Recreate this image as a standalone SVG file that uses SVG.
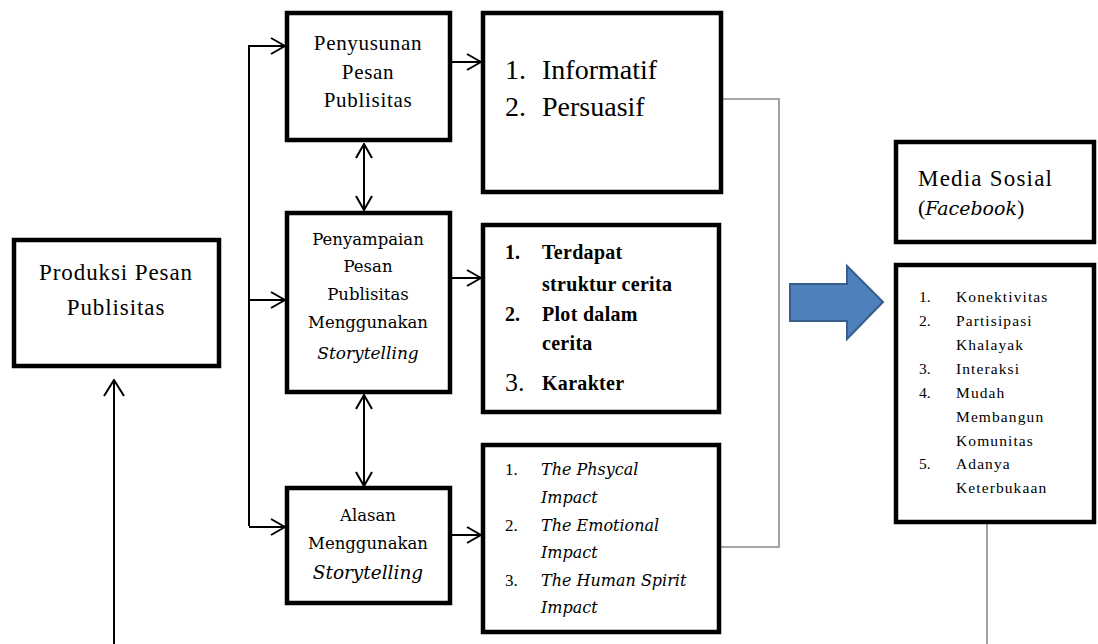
<svg xmlns="http://www.w3.org/2000/svg" width="1098" height="644" viewBox="0 0 1098 644">
<style>
.box{fill:#fff;stroke:#000;stroke-width:4.5}
.t{font-family:"Liberation Serif",serif;fill:#000}
.d{font-family:"DejaVu Serif",serif;fill:#000}
.c{text-anchor:middle}
.ln{fill:none;stroke:#000;stroke-width:2}
.gr{fill:none;stroke:#8a8a8a;stroke-width:1.6}
</style>
<defs>
<marker id="ah" viewBox="0 0 16 18" markerUnits="userSpaceOnUse" markerWidth="16" markerHeight="18" refX="15" refY="9" orient="auto-start-reverse">
<path d="M1,1 L15,9 L1,17" fill="none" stroke="#000" stroke-width="2"/>
</marker>
<marker id="ahb" viewBox="0 0 18 22" markerUnits="userSpaceOnUse" markerWidth="18" markerHeight="22" refX="17" refY="11" orient="auto">
<path d="M1,1 L17,11 L1,21" fill="none" stroke="#000" stroke-width="2"/>
</marker>
</defs>
<g id="connectors">
<path class="ln" d="M114,644 L114,380" marker-end="url(#ahb)"/>
<path class="ln" d="M249,526 L249,46 L285,46" marker-end="url(#ah)"/>
<path class="ln" d="M249,300 L285,300" marker-end="url(#ah)"/>
<path class="ln" d="M249,527 L285,527" marker-end="url(#ah)"/>
<path class="ln" d="M450,62 L481,62" marker-end="url(#ah)"/>
<path class="ln" d="M450,278 L481,278" marker-end="url(#ah)"/>
<path class="ln" d="M450,535 L481,535" marker-end="url(#ah)"/>
<path class="ln" d="M364,144 L364,210" marker-start="url(#ah)" marker-end="url(#ah)"/>
<path class="ln" d="M364,395 L364,486" marker-start="url(#ah)" marker-end="url(#ah)"/>
<path class="gr" d="M721,99 L779,99 L779,547 L720,547"/>
<path class="gr" d="M987,522 L987,644"/>
<polygon points="790,284 847,284 847,266 883,302 847,339 847,321 790,321" fill="#4f81bd" stroke="#385d8a" stroke-width="2"/>
</g>
<g id="produksi">
<rect class="box" x="14" y="240" width="205" height="126"/>
<text class="t c" x="116" y="280" font-size="23" letter-spacing="0.9">Produksi Pesan</text>
<text class="t c" x="116" y="315" font-size="23" letter-spacing="0.9">Publisitas</text>
</g>
<g id="penyusunan">
<rect class="box" x="287" y="13" width="163" height="127"/>
<text class="t c" x="368" y="50" font-size="21" letter-spacing="0.7">Penyusunan</text>
<text class="t c" x="368" y="79" font-size="21" letter-spacing="0.7">Pesan</text>
<text class="t c" x="368" y="107" font-size="21" letter-spacing="0.7">Publisitas</text>
</g>
<g id="penyampaian">
<rect class="box" x="287" y="213" width="163" height="179"/>
<text class="d c" x="368" y="245" font-size="16.5">Penyampaian</text>
<text class="d c" x="368" y="272" font-size="16.5">Pesan</text>
<text class="d c" x="368" y="300" font-size="16.5">Publisitas</text>
<text class="d c" x="368" y="328" font-size="16.5">Menggunakan</text>
<text class="d c" x="368" y="359" font-size="17" font-style="italic">Storytelling</text>
</g>
<g id="alasan">
<rect class="box" x="287" y="488" width="163" height="115"/>
<text class="d c" x="368" y="521" font-size="16.5">Alasan</text>
<text class="d c" x="368" y="549" font-size="16.5">Menggunakan</text>
<text class="d c" x="368" y="579" font-size="18.5" font-style="italic">Storytelling</text>
</g>
<g id="pesan-jenis">
<rect class="box" x="483" y="13" width="238" height="179"/>
<text class="t" x="505" y="79" font-size="28">1.</text>
<text class="t" x="542" y="79" font-size="28">Informatif</text>
<text class="t" x="505" y="116" font-size="28">2.</text>
<text class="t" x="542" y="116" font-size="28">Persuasif</text>
</g>
<g id="storytelling-unsur">
<rect class="box" x="483" y="225" width="236" height="187"/>
<text class="t" x="505" y="259" font-size="20" font-weight="bold">1.</text>
<text class="t" x="542" y="259" font-size="20" font-weight="bold" letter-spacing="0.3">Terdapat</text>
<text class="t" x="542" y="291" font-size="20" font-weight="bold" letter-spacing="0.3">struktur cerita</text>
<text class="t" x="505" y="321" font-size="20" font-weight="bold">2.</text>
<text class="t" x="542" y="321" font-size="20" font-weight="bold" letter-spacing="0.3">Plot dalam</text>
<text class="t" x="542" y="350" font-size="20" font-weight="bold" letter-spacing="0.3">cerita</text>
<text class="t" x="505" y="391" font-size="26">3.</text>
<text class="t" x="542" y="390" font-size="20" font-weight="bold" letter-spacing="0.3">Karakter</text>
</g>
<g id="impact">
<rect class="box" x="483" y="445" width="236" height="187"/>
<text class="t" x="505" y="475" font-size="17">1.</text>
<text class="d" x="541" y="475" font-size="16" font-style="italic">The Phsycal</text>
<text class="d" x="541" y="503" font-size="16" font-style="italic">Impact</text>
<text class="t" x="505" y="531" font-size="17">2.</text>
<text class="d" x="541" y="531" font-size="16" font-style="italic">The Emotional</text>
<text class="d" x="541" y="558" font-size="16" font-style="italic">Impact</text>
<text class="t" x="505" y="586" font-size="17">3.</text>
<text class="d" x="541" y="586" font-size="16" font-style="italic">The Human Spirit</text>
<text class="d" x="541" y="613" font-size="16" font-style="italic">Impact</text>
</g>
<g id="media-sosial">
<rect class="box" x="896" y="142" width="198" height="100"/>
<text class="t" x="918" y="186" font-size="23" letter-spacing="1.2">Media Sosial</text>
<text x="918" y="215" font-size="22"><tspan class="t">(</tspan><tspan class="d" font-style="italic" font-size="19">Facebook</tspan><tspan class="t">)</tspan></text>
</g>
<g id="karakteristik">
<rect class="box" x="896" y="265" width="198" height="257"/>
<text class="t" x="919" y="302" font-size="15.5">1.</text>
<text class="t" x="956" y="302" font-size="15.5" letter-spacing="1.1">Konektivitas</text>
<text class="t" x="919" y="326" font-size="15.5">2.</text>
<text class="t" x="956" y="326" font-size="15.5" letter-spacing="1.1">Partisipasi</text>
<text class="t" x="956" y="350" font-size="15.5" letter-spacing="1.1">Khalayak</text>
<text class="t" x="919" y="374" font-size="15.5">3.</text>
<text class="t" x="956" y="374" font-size="15.5" letter-spacing="1.1">Interaksi</text>
<text class="t" x="919" y="398" font-size="15.5">4.</text>
<text class="t" x="956" y="398" font-size="15.5" letter-spacing="1.1">Mudah</text>
<text class="t" x="956" y="422" font-size="15.5" letter-spacing="1.1">Membangun</text>
<text class="t" x="956" y="446" font-size="15.5" letter-spacing="1.1">Komunitas</text>
<text class="t" x="919" y="469" font-size="15.5">5.</text>
<text class="t" x="956" y="469" font-size="15.5" letter-spacing="1.1">Adanya</text>
<text class="t" x="956" y="493" font-size="15.5" letter-spacing="1.1">Keterbukaan</text>
</g>
</svg>
